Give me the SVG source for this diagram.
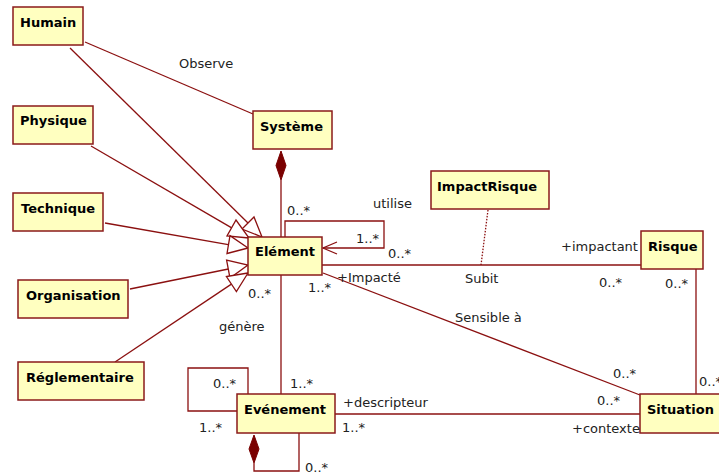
<svg xmlns="http://www.w3.org/2000/svg" width="719" height="475" viewBox="0 0 719 475">
<style>
.box{fill:#ffffc0;stroke:#8b1a1a;stroke-width:1.5}
.bt{font-family:"DejaVu Sans",Verdana,sans-serif;font-size:13px;font-weight:bold;fill:#000}
.lb{font-family:"DejaVu Sans",Verdana,sans-serif;font-size:13px;fill:#222}
.ln{fill:none;stroke:#8b1010;stroke-width:1.3}
.tri{fill:#fff;stroke:#8b1010;stroke-width:1.3}
.dia{fill:#7a0000;stroke:#7a0000;stroke-width:1}
</style>
<rect width="719" height="475" fill="#fff"/>
<g id="connectors">
<line class="ln" x1="85" y1="42" x2="253" y2="114"/>
<line class="ln" x1="70" y1="48" x2="248" y2="223"/>
<polygon class="tri" points="262,237 254,217 242,229"/>
<line class="ln" x1="91" y1="146" x2="231.7" y2="227.9"/>
<polygon class="tri" points="249,238 227,236 236,220"/>
<line class="ln" x1="105" y1="223" x2="228.3" y2="244.6"/>
<polygon class="tri" points="248,248 227,253.5 230,235.7"/>
<line class="ln" x1="130" y1="289" x2="228.4" y2="269"/>
<polygon class="tri" points="248,265 230,278 226.6,260"/>
<line class="ln" x1="115" y1="362" x2="231.4" y2="284.1"/>
<polygon class="tri" points="248,273 236.4,291.6 226.4,276.6"/>
<line class="ln" x1="281" y1="180" x2="281" y2="237"/>
<polygon class="dia" points="281,151 286,165.5 281,180 276,165.5"/>
<polyline class="ln" points="285,237 285,221 384,221 384,248 323,248"/>
<polyline class="ln" points="337,242 323,248 337,254"/>
<line class="ln" x1="322" y1="265" x2="641" y2="265"/>
<line class="ln" x1="488" y1="210" x2="481" y2="265" stroke-dasharray="1.5,1.5"/>
<line class="ln" x1="323" y1="273" x2="640" y2="395"/>
<line class="ln" x1="696" y1="269" x2="696" y2="394"/>
<line class="ln" x1="281" y1="275" x2="281" y2="394"/>
<polyline class="ln" points="237,411 188,411 188,368 248,368 248,394"/>
<polyline class="ln" points="254,463 254,471 299,471 299,433"/>
<polygon class="dia" points="254,435 259,449 254,463 249,449"/>
<line class="ln" x1="335" y1="414" x2="640" y2="414"/>
</g>
<g id="Humain"><rect class="box" x="13" y="7" width="70" height="38"/><text class="bt" x="20" y="27">Humain</text></g>
<g id="Physique"><rect class="box" x="13" y="106" width="80" height="38"/><text class="bt" x="20" y="125">Physique</text></g>
<g id="Systeme"><rect class="box" x="253" y="111" width="79" height="38"/><text class="bt" x="260" y="131">Système</text></g>
<g id="Technique"><rect class="box" x="13" y="193" width="90" height="38"/><text class="bt" x="21" y="213">Technique</text></g>
<g id="Organisation"><rect class="box" x="18" y="280" width="110" height="38"/><text class="bt" x="26" y="300">Organisation</text></g>
<g id="Reglementaire"><rect class="box" x="18" y="362" width="126" height="38"/><text class="bt" x="26" y="382">Réglementaire</text></g>
<g id="Element"><rect class="box" x="248" y="237" width="74" height="38"/><text class="bt" x="255" y="256">Elément</text></g>
<g id="ImpactRisque"><rect class="box" x="431" y="171" width="118" height="38"/><text class="bt" x="437" y="191">ImpactRisque</text></g>
<g id="Risque"><rect class="box" x="641" y="231" width="62" height="38"/><text class="bt" x="648" y="251">Risque</text></g>
<g id="Evenement"><rect class="box" x="237" y="394" width="98" height="39"/><text class="bt" x="244" y="414">Evénement</text></g>
<g id="Situation"><rect class="box" x="640" y="394" width="90" height="39"/><text class="bt" x="647" y="414">Situation</text></g>
<g id="labels">
<text class="lb" x="179" y="68">Observe</text>
<text class="lb" x="287" y="215">0..*</text>
<text class="lb" x="373" y="208">utilise</text>
<text class="lb" x="356" y="243">1..*</text>
<text class="lb" x="388" y="258">0..*</text>
<text class="lb" x="337" y="282">+Impacté</text>
<text class="lb" x="308" y="292">1..*</text>
<text class="lb" x="248" y="298">0..*</text>
<text class="lb" x="219" y="331">génère</text>
<text class="lb" x="465" y="283">Subit</text>
<text class="lb" x="561" y="251">+impactant</text>
<text class="lb" x="599" y="287">0..*</text>
<text class="lb" x="665" y="288">0..*</text>
<text class="lb" x="455" y="322">Sensible à</text>
<text class="lb" x="613" y="378">0..*</text>
<text class="lb" x="597" y="405">0..*</text>
<text class="lb" x="699" y="386">0..*</text>
<text class="lb" x="572" y="433">+contexte</text>
<text class="lb" x="213" y="388">0..*</text>
<text class="lb" x="290" y="388">1..*</text>
<text class="lb" x="343" y="407">+descripteur</text>
<text class="lb" x="199" y="432">1..*</text>
<text class="lb" x="342" y="432">1..*</text>
<text class="lb" x="305" y="472">0..*</text>
</g>
</svg>
